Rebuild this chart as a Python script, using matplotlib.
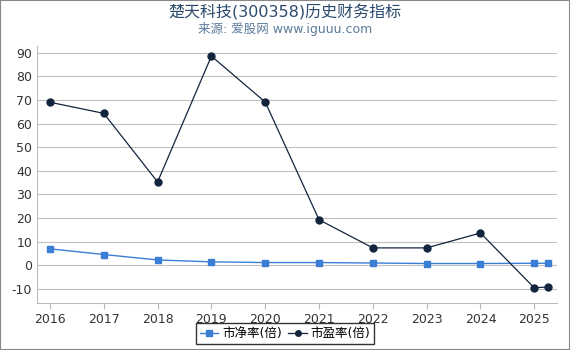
import matplotlib
matplotlib.use("Agg")
import matplotlib.pyplot as plt

plt.rcParams['font.family'] = ['DejaVu Sans', 'Noto Sans CJK SC']
plt.rcParams['axes.unicode_minus'] = False

years = [2016, 2017, 2018, 2019, 2020, 2021, 2022, 2023, 2024, 2025, 2025.25]
pb = [7.0, 4.6, 2.3, 1.5, 1.2, 1.2, 1.0, 0.8, 0.8, 0.9, 0.9]
pe = [69.0, 64.3, 35.3, 88.5, 69.1, 19.3, 7.4, 7.4, 13.7, -9.5, -9.1]
xticks = [2016, 2017, 2018, 2019, 2020, 2021, 2022, 2023, 2024, 2025]

fig = plt.figure(figsize=(5.7, 3.5), dpi=100)
ax = fig.add_axes([0.065, 0.135, 0.912, 0.735])

ax.plot(years, pb, color='#3a7fd5', marker='s', markersize=5, linewidth=1,
        label='市净率(倍)', zorder=3)
ax.plot(years, pe, color='#13253d', marker='o', markersize=5, linewidth=0.9,
        label='市盈率(倍)', zorder=3)

ax.set_xlim(2015.76, 2025.42)
ax.set_ylim(-15.8, 93)
ax.set_xticks(xticks)
ax.set_yticks(range(-10, 91, 10))
ax.grid(axis='y', color='#c0c0c0', linewidth=0.8)
ax.tick_params(colors='#333333', labelsize=9, length=4)
ax.tick_params(axis='x', color='#bbbbbb')
ax.tick_params(axis='y', length=0)
for s in ['top', 'right']:
    ax.spines[s].set_visible(False)
for s in ['left', 'bottom']:
    ax.spines[s].set_color('#bbbbbb')

fig.text(0.5, 0.965, '楚天科技(300358)历史财务指标', ha='center', va='center',
         fontsize=11.5, color='#2b4a6c')
fig.text(0.5, 0.918, '来源: 爱股网 www.iguuu.com', ha='center', va='center',
         fontsize=9, color='#5b7a9b')

leg = fig.legend(loc='lower center', bbox_to_anchor=(0.5, 0.0), ncol=2,
                 fontsize=9, frameon=True, fancybox=False, handlelength=1.5,
                 handletextpad=0.3, columnspacing=0.5, borderpad=0.3,
                 markerscale=0.8)
leg.get_frame().set_edgecolor('black')
leg.get_frame().set_linewidth(1)

fig.patches.append(plt.Rectangle((0, 0), 1, 1, transform=fig.transFigure,
                                 fill=False, edgecolor='#888888', linewidth=1.5))

fig.savefig('out.png', dpi=100)
